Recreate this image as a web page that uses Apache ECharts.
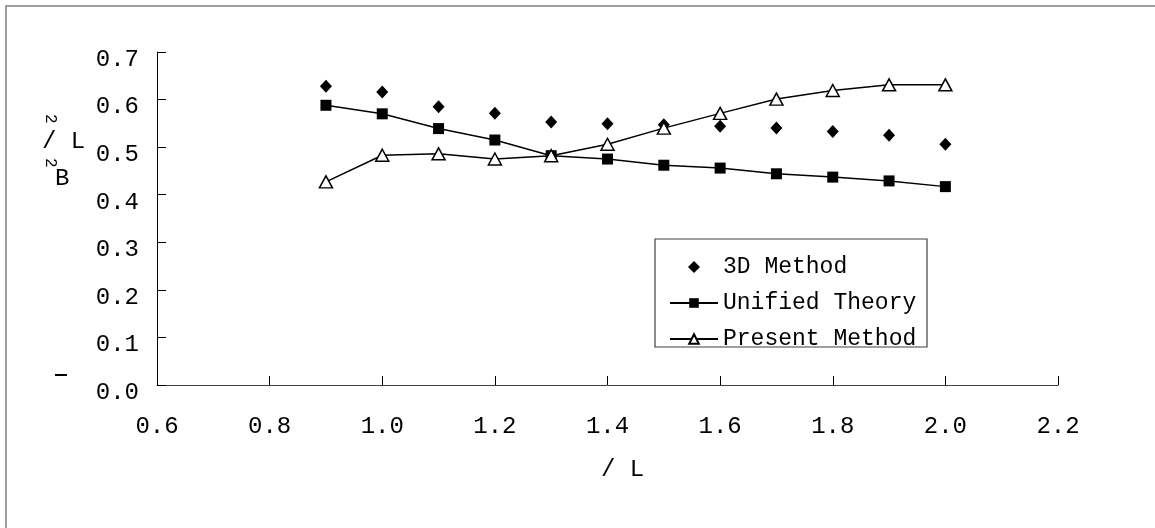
<!DOCTYPE html>
<html>
<head>
<meta charset="utf-8">
<script src="https://cdn.jsdelivr.net/npm/echarts@6/dist/echarts.min.js"></script>
<style>
  html, body { margin: 0; padding: 0; background: #fff; }
  #main { width: 1155px; height: 528px; }
</style>
</head>
<body>
<div id="main"></div>
<script>
// values
var xValues = [0.9, 1.0, 1.1, 1.2, 1.3, 1.4, 1.5, 1.6, 1.7, 1.8, 1.9, 2.0];
var method3d = [0.628, 0.616, 0.585, 0.571, 0.553, 0.549, 0.547, 0.544, 0.540, 0.533, 0.525, 0.506];
var unifiedTheory = [0.588, 0.570, 0.539, 0.515, 0.482, 0.475, 0.462, 0.456, 0.444, 0.437, 0.429, 0.417];
var presentMethod = [0.427, 0.483, 0.486, 0.475, 0.482, 0.506, 0.540, 0.571, 0.601, 0.619, 0.631, 0.631];
var seriesNames = ["3D Method", "Unified Theory", "Present Method"];

var font = "'Liberation Mono', 'DejaVu Sans Mono', monospace";
var diamondIcon = "path://M0,-1L1,0L0,1L-1,0Z";

function pairs(ys) {
  return xValues.map(function (x, i) { return [x, ys[i]]; });
}

var chartDom = document.getElementById("main");
var myChart = echarts.init(chartDom, null, { renderer: "canvas" });
var option;

option = {
  animation: false,
  backgroundColor: "#fff",
  textStyle: { fontFamily: font, color: "#000" },
  grid: { left: 157, right: 97, top: 52, bottom: 143 },
  xAxis: {
    type: "value",
    min: 0.6,
    max: 2.2,
    interval: 0.2,
    name: "/ L",
    nameLocation: "middle",
    nameGap: 73,
    nameTextStyle: { fontFamily: font, fontSize: 24, color: "#000", padding: [0, 0, 0, 30] },
    axisLine: { lineStyle: { color: "#404040", width: 1 } },
    axisTick: { inside: true, length: 9, lineStyle: { color: "#000" } },
    axisLabel: {
      margin: 30,
      fontFamily: font,
      fontSize: 24,
      color: "#000",
      formatter: function (v) { return v.toFixed(1); }
    },
    splitLine: { show: false }
  },
  yAxis: {
    type: "value",
    min: 0,
    max: 0.7,
    interval: 0.1,
    axisLine: { show: true, lineStyle: { color: "#000", width: 1 } },
    axisTick: { show: true, inside: true, length: 9, lineStyle: { color: "#000" } },
    axisLabel: {
      margin: 18,
      fontFamily: font,
      fontSize: 24,
      color: "#000",
      verticalAlign: "top",
      lineHeight: 15,
      formatter: function (v) { return v.toFixed(1); }
    },
    splitLine: { show: false }
  },
  legend: {
    orient: "vertical",
    left: 664,
    top: 250,
    itemWidth: 48,
    itemHeight: 12,
    itemGap: 12,
    symbolKeepAspect: true,
    textStyle: { fontFamily: font, fontSize: 23, color: "#000", lineHeight: 24 },
    data: [
      { name: seriesNames[0], icon: diamondIcon },
      seriesNames[1],
      seriesNames[2]
    ]
  },
  graphic: [
    {
      type: "rect",
      shape: { x: 6, y: 6, width: 1400, height: 800 },
      style: { fill: "none", stroke: "#808080", lineWidth: 1.5 },
      silent: true
    },
    {
      type: "rect",
      shape: { x: 655, y: 239, width: 272, height: 108 },
      style: { fill: "none", stroke: "#404040", lineWidth: 1.2 },
      silent: true
    },
    {
      type: "text",
      left: 42,
      top: 130,
      style: { text: "/ L", font: "24px " + font, fill: "#000" }
    },
    {
      type: "text",
      left: 55,
      top: 167,
      style: { text: "B", font: "24px " + font, fill: "#000" }
    },
    {
      type: "text",
      left: 42,
      top: 114,
      rotation: -Math.PI / 2,
      style: { text: "2", font: "16px " + font, fill: "#000" }
    },
    {
      type: "text",
      left: 42,
      top: 158,
      rotation: -Math.PI / 2,
      style: { text: "2", font: "16px " + font, fill: "#000" }
    },
    {
      type: "rect",
      shape: { x: 55, y: 374, width: 12, height: 2 },
      style: { fill: "#000" },
      silent: true
    }
  ],
  series: [
    {
      name: seriesNames[0],
      type: "scatter",
      symbol: "diamond",
      symbolSize: [12, 13],
      itemStyle: { color: "#000", opacity: 1 },
      data: pairs(method3d)
    },
    {
      name: seriesNames[1],
      type: "line",
      symbol: "rect",
      symbolSize: 11,
      itemStyle: { color: "#000" },
      lineStyle: { color: "#000", width: 1.5 },
      data: pairs(unifiedTheory)
    },
    {
      name: seriesNames[2],
      type: "line",
      symbol: "triangle",
      symbolSize: [13, 12],
      itemStyle: { color: "#fff", borderColor: "#000", borderWidth: 1.5 },
      lineStyle: { color: "#000", width: 1.5 },
      data: pairs(presentMethod)
    }
  ]
};

option && myChart.setOption(option);
</script>
</body>
</html>
